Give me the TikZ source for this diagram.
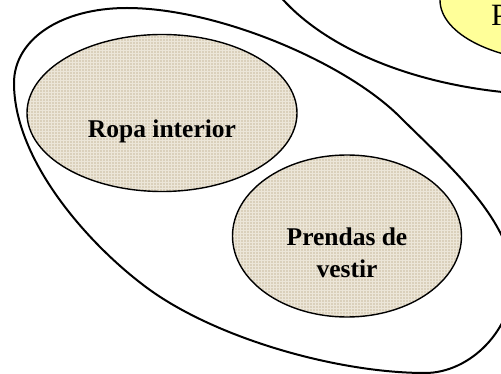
\documentclass[tikz,border=0pt]{standalone}
\usepackage{fontspec}
\setmainfont{Liberation Serif}
\usetikzlibrary{shapes.geometric,patterns}
\definecolor{linen}{RGB}{218,208,187}
\definecolor{linenlight}{RGB}{236,230,216}
\definecolor{paleyellow}{RGB}{255,255,153}
\tikzset{
    setline/.style={line width=2pt},
    tanblob/.style={ellipse, draw, line width=1.4pt, inner sep=0pt,
        preaction={fill=linen}, pattern=grid, pattern color=linenlight},
    blobtext/.style={font=\fontsize{25.5}{32}\selectfont\bfseries, align=center}
}
\begin{document}
\begin{tikzpicture}[x=1pt,y=-1pt]
            \useasboundingbox (0,0) rectangle (501,374);
            \clip (0,0) rectangle (501,374);
            % other set, top right
            \draw[setline] (560,-80) ellipse [x radius=311pt, y radius=175pt];
            \node (yellowset) [ellipse, draw, line width=1.4pt, fill=paleyellow,
                minimum width=250pt, minimum height=124pt] at (565,0) {};
            \node (ptext) [anchor=base west, inner sep=0pt, font=\fontsize{31}{36}\selectfont] at (491,26) {P};
            % big set with the two blobs
            \draw[setline] (14,83) % left
                .. controls (14,40) and (60,8) .. (127,8) % top
                .. controls (217,8) and (345,62) .. (400,117)
                .. controls (445,162) and (513,220) .. (513,280) % right
                .. controls (513,330) and (470,373) .. (425,373) % bottom
                .. controls (340,373) and (220,340) .. (150,290)
                .. controls (93,249) and (14,163) .. cycle;
            \node (ropa) [tanblob, minimum width=270pt, minimum height=157pt] at (162,113) {};
            \node (prendas) [tanblob, minimum width=229pt, minimum height=162pt] at (347,236) {};
            \node (ropatext) [blobtext] at (162,131) {Ropa interior};
            \node (prendastext) [blobtext] at (347,253) {Prendas de\\vestir};
        \end{tikzpicture}
\end{document}
